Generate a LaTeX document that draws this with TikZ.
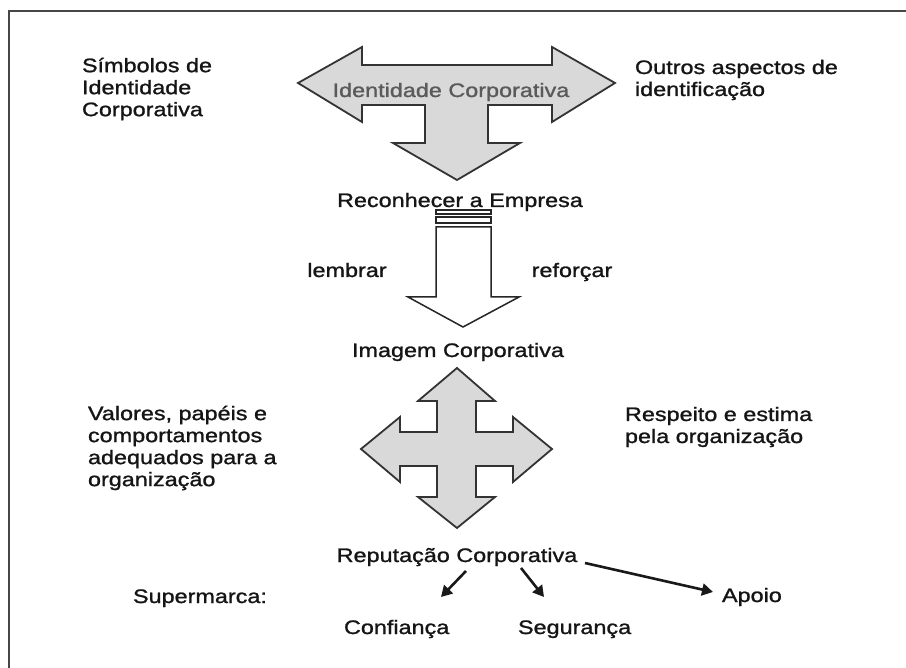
\documentclass[tikz,border=0pt]{standalone}
\usepackage{fontspec}
\setmainfont[FakeStretch=1.2,FakeBold=1.2]{Liberation Sans}
\usetikzlibrary{arrows.meta}
\definecolor{txt}{HTML}{151515}
\definecolor{graytxt}{HTML}{5A5A5A}
\definecolor{arrowfill}{HTML}{D9D9D9}
\definecolor{arrowline}{HTML}{333333}
\definecolor{framecol}{HTML}{474747}
\begin{document}
\begin{tikzpicture}[x=1pt,y=-1pt,
  every node/.style={inner sep=0pt,outer sep=0pt,text=txt,font=\fontsize{19.5}{22}\selectfont},
  lbl/.style={anchor=base},
  lbll/.style={anchor=base west},
  blk/.style={anchor=west,align=left},
  bigarrow/.style={fill=arrowfill,draw=arrowline,line width=1.8pt,line join=miter},
  whitearrow/.style={fill=white,draw=black!85,line width=1.5pt},
  conn/.style={draw=black!90,line width=2.6pt,-{Triangle[length=11pt,width=12pt]}},
  framel/.style={draw=framecol,line width=2pt}]
\useasboundingbox (0,0) rectangle (906,668);
\fill[white] (0,0) rectangle (906,668);
% frame
\draw[framel] (9,668) -- (9,11) -- (906,11);
% top T arrow
\draw[bigarrow] (298,83) -- (362,47) -- (362,65) -- (552,65) -- (552,47) -- (615,83)
  -- (552,122) -- (552,105) -- (488,105) -- (488,143) -- (520,143) -- (457,180)
  -- (393,143) -- (425,143) -- (425,105) -- (362,105) -- (362,122) -- cycle;
\node[lbl,text=graytxt] (idc) at (451,97) {Identidade Corporativa};
\node[blk] (simb) at (82,89) {Símbolos de\\Identidade\\Corporativa};
\node[blk] (outros) at (635,80) {Outros aspectos de\\identificação};
\node[lbl] (rec) at (460,207) {Reconhecer a Empresa};
% white arrow
\draw[whitearrow] (436,210) rectangle (491,214);
\draw[whitearrow] (436,217) rectangle (491,223);
\draw[whitearrow] (436,227) -- (491,227) -- (491,297) -- (519,297) -- (463,327) -- (408,297) -- (436,297) -- cycle;
\node[lbl] (lemb) at (347,277) {lembrar};
\node[lbl] (refo) at (572,277) {reforçar};
\node[lbl] (img) at (458,357) {Imagem Corporativa};
% cross arrow
\draw[bigarrow] (457,368) -- (495,401) -- (476,401) -- (476,432) -- (513,432) -- (513,417)
  -- (552,449) -- (513,482) -- (513,466) -- (476,466) -- (476,497) -- (495,497)
  -- (457,528) -- (418,497) -- (437,497) -- (437,466) -- (400,466) -- (400,482)
  -- (361,449) -- (400,417) -- (400,432) -- (437,432) -- (437,401) -- (418,401) -- cycle;
\node[blk] (valores) at (88,448) {Valores, papéis e\\comportamentos\\adequados para a\\organização};
\node[blk] (resp) at (625,427) {Respeito e estima\\pela organização};
\node[lbl] (rep) at (457,562) {Reputação Corporativa};
\node[lbll] (superm) at (133,603) {Supermarca:};
\node[lbll] (conf) at (344,634) {Confiança};
\node[lbll] (segu) at (518,634) {Segurança};
\node[lbll] (apoio) at (722,602) {Apoio};
\coordinate (a1s) at (466,571);
\coordinate (a1e) at (441,597);
\coordinate (a2s) at (521,568);
\coordinate (a2e) at (544,597);
\coordinate (a3s) at (585,563);
\coordinate (a3e) at (713,592);
\draw[conn] (a1s) -- (a1e);
\draw[conn] (a2s) -- (a2e);
\draw[conn] (a3s) -- (a3e);
\end{tikzpicture}
\end{document}
